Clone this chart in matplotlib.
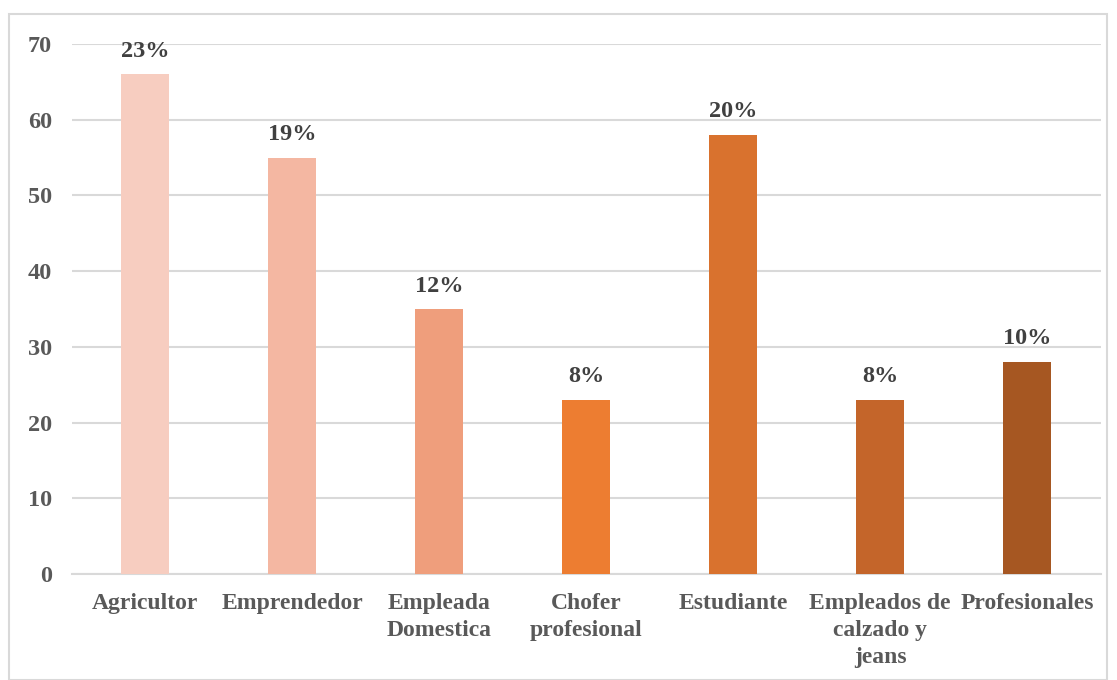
import matplotlib
matplotlib.use("Agg")
import matplotlib.pyplot as plt
from matplotlib.patches import Rectangle

categories = ["Agricultor", "Emprendedor", "Empleada\nDomestica", "Chofer\nprofesional",
              "Estudiante", "Empleados de\ncalzado y\njeans", "Profesionales"]
values = [66, 55, 35, 23, 58, 23, 28]
pct_labels = ["23%", "19%", "12%", "8%", "20%", "8%", "10%"]
colors = ["#F7CDC0", "#F4B7A2", "#EF9E7C", "#ED7D31", "#D9722E", "#C4652A", "#A65722"]
yticks = [0, 10, 20, 30, 40, 50, 60, 70]

plt.rcParams['font.family'] = ['Liberation Serif', 'DejaVu Serif']

W, H = 1117, 680
fig = plt.figure(figsize=(W/100, H/100), dpi=100)
fig.patches.append(Rectangle((9/W, 0), (1107-9)/W, (H-14)/H, transform=fig.transFigure,
                             fill=False, edgecolor="#D9D9D9", linewidth=1.5))

ax = fig.add_axes([71.5/W, 1-574/H, (1100.5-71.5)/W, (574-44)/H])
x = list(range(len(categories)))
ax.bar(x, values, width=0.32, color=colors, zorder=3)
ax.set_xlim(-0.5, len(categories)-0.5)
ax.set_ylim(0, 70)
ax.set_yticks(yticks)
ax.set_yticklabels([str(t) for t in yticks], fontsize=17.5, fontweight='bold', color="#595959")
ax.set_xticks(x)
ax.set_xticklabels(categories, fontsize=17, fontweight='bold', color="#595959", linespacing=1.35)
ax.tick_params(axis='both', length=0)
ax.tick_params(axis='y', pad=14)
ax.tick_params(axis='x', pad=14)
ax.grid(axis='y', color="#D9D9D9", linewidth=1.5, zorder=0)
for s in ['top', 'right', 'left']:
    ax.spines[s].set_visible(False)
ax.spines['bottom'].set_color("#D9D9D9")
ax.spines['bottom'].set_linewidth(1.5)

for xi, v, lab in zip(x, values, pct_labels):
    ax.annotate(lab, (xi, v), xytext=(0, 9), textcoords='offset points', ha='center', va='bottom',
                fontsize=17.5, fontweight='bold', color="#404040")

fig.savefig("out.png", dpi=100)
